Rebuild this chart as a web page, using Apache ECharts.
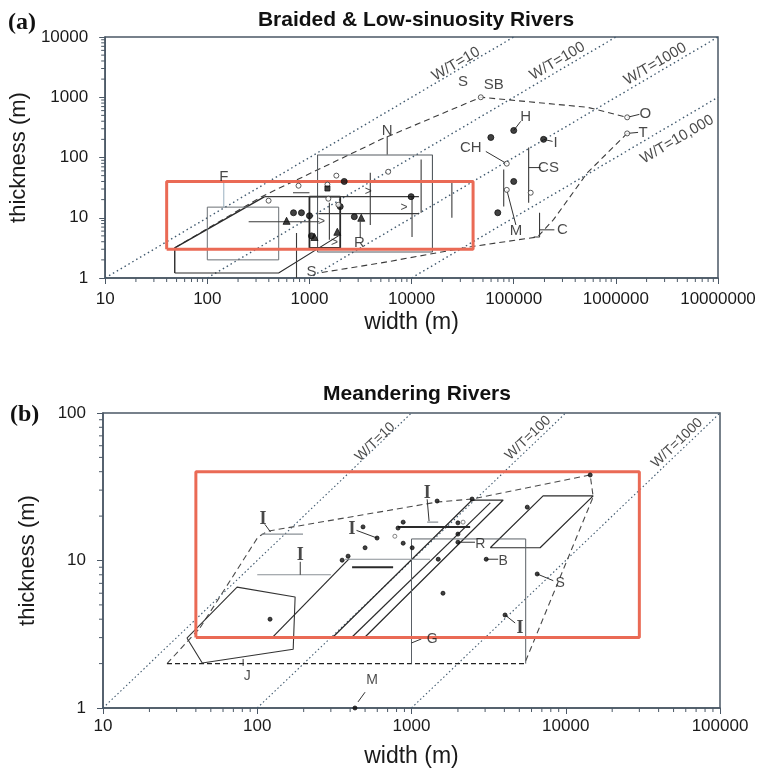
<!DOCTYPE html>
<html><head><meta charset="utf-8">
<script src="https://cdn.jsdelivr.net/npm/echarts@6/dist/echarts.min.js"></script>
<style>html,body{margin:0;padding:0;background:#fff}#c{width:760px;height:774px}</style>
</head><body><div id="c"></div>
<script>
// ---------- tick labels ----------
const xTicksA = [10, 100, 1000, 10000, 100000, 1000000, 10000000];
const yTicksA = [1, 10, 100, 1000, 10000];
const xTicksB = [10, 100, 1000, 10000, 100000];
const yTicksB = [1, 10, 100];
const minorMult = [2, 3, 4, 5, 6, 7, 8, 9];

// ---------- panel (a) : braided ----------
const wtLinesA = [[[10,1],[1e5,1e4]], [[100,1],[1e6,1e4]], [[1000,1],[1e7,1e4]], [[1e4,1],[1e7,1e3]]];
const wtLabelsA = [['W/T=10',27200,3560],['W/T=100',268000,3980],['W/T=1000',2.43e6,3560],['W/T=10,000',3.98e6,200]];
const redBoxA = [[40,3],[40000,3],[40000,40],[40,40],[40,3]];
const envUpperA = [[48,3.16],[340,22.4],[5040,200],[47600,1000],[527000,681],[1.29e6,464]];
const envLowerA = [[1.29e6,251],[527000,56],[245000,9.3],[171000,4.8],[38000,3.3],[5040,1.78],[1225,1.21]];
const polyLeftA = [[48,1.21],[48,3.16],[364,22.4]];
const polyBaseA = [[48,1.21],[499,1.21],[1920,5.0]];
const boxFA = [[100,2],[500,2],[500,15],[100,15],[100,2]];
const boxNA = [[1200,2.7],[16000,2.7],[16000,110],[1200,110],[1200,2.7]];
const boxThickA = [[1000,3.16],[2000,3.16],[2000,22.4],[1000,22.4],[1000,3.16]];
const darkSegsA = [
  [[364,22.4],[11800,22.4]], [[1225,11.7],[11800,11.7]], [[254,8.6],[1250,8.6]], [[690,26],[1000,26]],
  [[747,1],[747,5.6]], [[1567,4.3],[1567,17.8]], [[3940,7.6],[3940,56]], [[10100,4.8],[10100,22.4]],
  [[12400,12.1],[12400,92.6]], [[24800,10],[24800,38]], [[79800,15.3],[79800,63]], [[140000,17.8],[140000,147]],
  [[157000,4.8],[179000,4.8],[179000,12.1]]
];
const leadersA = [
  [[5770,112],[5770,224]], [[100000,281],[117000,398]], [[53300,126],[85500,79]], [[196000,200],[240000,185]],
  [[140000,68],[183000,68]], [[85500,29],[105000,7.6]], [[179000,6.3],[250000,6.3]], [[1.29e6,464],[1.7e6,520]],
  [[1.29e6,251],[1.65e6,261]], [[3140,4.6],[3140,8.6]]
];
const leaderFA = [[145,14.7],[145,38]];
const dotsA = [[698,12.1],[835,12.1],[1000,10.8],[1047,5.0],[2750,10.4],[2190,40],[2000,15.3],[9890,22.4],[100000,281],[59700,215],[196000,200],[100000,40],[69800,12.1]];
const triA = [[597,8.9],[1120,4.8],[1875,5.85],[3215,10]];
const openA = [[398,19.2],[782,34],[1500,35.5],[1834,50],[1530,20.7],[1920,16.4],[5900,58],[47600,1000],[85500,79],[146600,26],[85500,29],[1.29e6,464],[1.29e6,251]];
const squareA = [[1500,30.6]];
const chevronA = [[3770,27],[8450,14.7],[1310,8.6],[1755,3.8]];
const labelsA = [['S',31800,1778],['SB',63800,1585],['H',131000,480],['CH',38000,147],['I',257000,177],['CS',219000,68],['M',105000,6.0],['C',300000,6.3],['O',1.94e6,540],['T',1.85e6,261],['N',5770,281],['F',145,48],['R',3080,3.8],['S',1047,1.26]];

// ---------- panel (b) : meandering ----------
const wtLinesB = [[[10,1],[1000,100]], [[100,1],[10000,100]], [[1000,1],[100000,100]]];
const wtLabelsB = [['W/T=10',581,63.6],['W/T=100',5700,67.7],['W/T=1000',52700,62.6]];
const redBoxB = [[40,3],[30000,3],[30000,40],[40,40],[40,3]];
const envB = [[42.6,3.5],[101,14.4],[117,15.8],[1466,24.9],[2470,26.1],[14400,38],[15060,27],[5460,2.05]];
const envLeftB = [[26,2.0],[42.6,3.5]];
const baseB = [[26,2.0],[5460,2.0]];
const polyJB = [[35,2.98],[74,6.6],[176,5.66],[171,2.5],[44,2.02],[35,2.98]];
const paraMidB = [[310,3.03],[2470,25.7],[3930,25.7],[500,3.03]];
const paraMidLineB = [[412,3.03],[3240,24.6]];
const paraRightB = [[3240,12.2],[7130,27.4],[15060,27.4],[6820,12.2],[3240,12.2]];
const lineAB = [[125,3.0],[395,10.3]];
const boxGB = [[1000,2],[1000,14],[5500,14],[5500,2]];
const darkSegsB = [[[412,9.0],[760,9.0]], [[818,16.9],[2400,16.9]]];
const graySegsB = [[[100,8],[300,8]], [[107,15.1],[198,15.1]], [[370,10.2],[1320,10.2]], [[1263,18.2],[1490,18.2]]];
const leadersB = [
  [[190,8],[190,9.8]], [[1263,26],[1300,18.5]], [[440,16],[598,14.2]], [[2000,13.3],[2580,13.3]],
  [[3050,10.2],[3650,10.2]], [[6530,8.1],[8300,7.3]], [[4040,4.27],[4700,3.77]], [[1000,2.76],[1160,2.94]],
  [[81,1.93],[81,2.15]], [[450,1.1],[500,1.28]], [[112,17.6],[122,15.6]]
];
const dotsB = [[485,16.9],[598,14.2],[500,12.2],[883,18.2],[818,16.6],[883,13.1],[1010,12.2],[355,10.05],[388,10.7],[2000,18],[2000,15.1],[2000,13.3],[1490,10.2],[1600,6.0],[121,4.0],[2470,26.1],[1466,25.3],[14400,38],[5630,23],[6530,8.1],[3050,10.2],[4040,4.27],[430,1.0]];
const openB = [[2160,18.2],[780,14.6]];
const labelsB = [['R',2790,12.9],['B',3930,9.9],['S',9200,7.05],['G',1360,2.94],['J',86,1.65],['M',556,1.55]];
const barLabelsB = [['I',109,19.1],['I',190,10.9],['I',412,16.3],['I',1263,28.6],['I',5060,3.49]];

// ---------- build ----------
const SANS = 'Liberation Sans, Arial, sans-serif';
const SERIF = 'Liberation Serif, Times New Roman, serif';
const AX = '#4b5866';
const series = [];
function ln(g, pts, color, width, type, z) {
  series.push({type:'line', xAxisIndex:g, yAxisIndex:g, data:pts, symbol:'none', silent:true,
    lineStyle:{color:color, width:width, type:type||'solid'}, z:z||2, animation:false});
}
function sc(g, pts, symbol, size, color, border) {
  series.push({type:'scatter', xAxisIndex:g, yAxisIndex:g, data:pts, symbol:symbol, symbolSize:size, silent:true,
    itemStyle:{color:color, borderColor:border||color, borderWidth:1}, z:5, animation:false});
}
function lbl(g, arr, size, rotate, family, weight) {
  series.push({type:'scatter', xAxisIndex:g, yAxisIndex:g, symbolSize:1, silent:true, animation:false, z:6,
    itemStyle:{color:'rgba(0,0,0,0)'},
    data: arr.map(a => ({name:a[0], value:[a[1], a[2]]})),
    label:{show:true, position:'inside', formatter:'{b}', color:'#1a1a1a', fontSize:size, rotate:rotate||0,
      fontFamily:family||SANS, fontWeight:weight||'normal'}});
}
function minorTicks(g, xt, yt) {
  const xs = [], ys = [];
  for (let i = 0; i < xt.length - 1; i++) minorMult.forEach(m => xs.push(xt[i]*m));
  for (let i = 0; i < yt.length - 1; i++) minorMult.forEach(m => ys.push(yt[i]*m));
  const x0 = xt[0], y0 = yt[0];
  series.push({type:'custom', xAxisIndex:g, yAxisIndex:g, silent:true, animation:false, clip:false, z:3,
    data: xs.map(v => [v, y0, 0]).concat(ys.map(v => [x0, v, 1])),
    renderItem: function(params, api) {
      const p = api.coord([api.value(0), api.value(1)]);
      const isY = api.value(2) === 1;
      return {type:'line', shape: isY ? {x1:p[0], y1:p[1], x2:p[0]-4, y2:p[1]} : {x1:p[0], y1:p[1], x2:p[0], y2:p[1]+4},
        style:{stroke:AX, lineWidth:1}};
    }});
}

const DOT = '#40596e', RED = '#ea6a55', DK = '#2b2b2b', GR = '#8a9096';

// panel a
wtLinesA.forEach(l => ln(0, l, DOT, 1.4, [1.5,3]));
ln(0, envUpperA, '#3c3c3c', 1.1, [6,4]);
ln(0, envLowerA, '#3c3c3c', 1.1, [6,4]);
ln(0, polyLeftA, DK, 1.4); ln(0, polyBaseA, DK, 1.1);
ln(0, boxFA, '#6b7075', 1); ln(0, boxNA, '#555b60', 1.1); ln(0, boxThickA, DK, 1.8);
darkSegsA.forEach(l => ln(0, l, '#3a3a3a', 1.1));
leadersA.forEach(l => ln(0, l, '#333', 1));
ln(0, leaderFA, '#9ab0c0', 1);
ln(0, redBoxA, RED, 3, 'solid', 4);
sc(0, dotsA, 'circle', 6, '#111');
sc(0, triA, 'triangle', 7, '#111');
sc(0, openA, 'circle', 5, '#fff', '#333');
sc(0, squareA, 'rect', 5, '#111');
lbl(0, chevronA.map(a => ['>', a[0], a[1]]), 12);
lbl(0, labelsA, 15);
lbl(0, wtLabelsA, 15, 30.3);
minorTicks(0, xTicksA, yTicksA);

// panel b
wtLinesB.forEach(l => ln(1, l, DOT, 1.1, [1.5,2.5]));
ln(1, envB, '#4a4a4a', 1.1, [6,4]);
ln(1, envLeftB, '#4a4a4a', 1.1, [6,4]);
ln(1, baseB, '#222', 1.3, [5,3]);
ln(1, polyJB, '#333', 1.1);
ln(1, paraMidB, DK, 1.2); ln(1, paraMidLineB, DK, 1.2);
ln(1, paraRightB, DK, 1.2);
ln(1, lineAB, DK, 1.2);
ln(1, boxGB, '#5a6066', 1);
darkSegsB.forEach(l => ln(1, l, '#2a2a2a', 2));
graySegsB.forEach(l => ln(1, l, GR, 1.1));
leadersB.forEach(l => ln(1, l, '#333', 1));
ln(1, redBoxB, RED, 3, 'solid', 4);
sc(1, dotsB, 'circle', 4, '#111');
sc(1, openB, 'circle', 4, '#fff', '#666');
lbl(1, labelsB, 14);
lbl(1, barLabelsB, 18, 0, SERIF, 'bold');
lbl(1, wtLabelsB, 14, 43.7);
minorTicks(1, xTicksB, yTicksB);

function fmt(arr) { return v => { let best = arr[0]; arr.forEach(t => { if (Math.abs(Math.log10(t) - Math.log10(v)) < Math.abs(Math.log10(best) - Math.log10(v))) best = t; }); return String(best); }; }
function xAx(g, ticks, gap, margin) {
  return {type:'log', logBase:10, gridIndex:g, min:ticks[0], max:ticks[ticks.length-1], splitNumber:ticks.length-1,
    name:'width (m)', nameLocation:'middle', nameGap:gap, nameTextStyle:{fontSize:23, color:'#1a1a1a', fontFamily:SANS},
    axisLine:{lineStyle:{color:AX, width:1.5}}, axisTick:{inside:false, length:6, lineStyle:{color:AX}},
    axisLabel:{formatter:fmt(ticks), fontSize:17, color:'#1a1a1a', margin:margin, fontFamily:SANS}, splitLine:{show:false}};
}
function yAx(g, ticks, gap) {
  return {type:'log', logBase:10, gridIndex:g, min:ticks[0], max:ticks[ticks.length-1], splitNumber:ticks.length-1,
    name:'thickness (m)', nameLocation:'middle', nameGap:gap, nameTextStyle:{fontSize:22, color:'#1a1a1a', fontFamily:SANS},
    axisLine:{lineStyle:{color:AX, width:1.5}}, axisTick:{inside:false, length:6, lineStyle:{color:AX}},
    axisLabel:{formatter:fmt(ticks), fontSize:17, color:'#1a1a1a', margin:17, fontFamily:SANS}, splitLine:{show:false}};
}

const chart = echarts.init(document.getElementById('c'), null, {renderer:'canvas'});
chart.setOption({
  animation:false,
  backgroundColor:'#fff',
  title:[
    {text:'Braided & Low-sinuosity Rivers', left:411, top:5, textAlign:'center', textStyle:{fontSize:21, fontWeight:'bold', color:'#111', fontFamily:SANS}},
    {text:'(a)', left:3, top:6, textStyle:{fontSize:24, fontWeight:'bold', color:'#111', fontFamily:SERIF}},
    {text:'Meandering Rivers', left:412, top:379, textAlign:'center', textStyle:{fontSize:21, fontWeight:'bold', color:'#111', fontFamily:SANS}},
    {text:'(b)', left:5, top:398, textStyle:{fontSize:24, fontWeight:'bold', color:'#111', fontFamily:SERIF}}
  ],
  grid:[
    {left:103, top:37, width:615, height:241, show:true, borderColor:AX, borderWidth:1.5, backgroundColor:'#fff'},
    {left:103, top:413, width:617, height:295, show:true, borderColor:AX, borderWidth:1.5, backgroundColor:'#fff'}
  ],
  xAxis:[xAx(0, xTicksA, 33, 13), xAx(1, xTicksB, 37, 10)],
  yAxis:[yAx(0, yTicksA, 64), yAx(1, yTicksB, 64)],
  series: series
});
</script></body></html>
